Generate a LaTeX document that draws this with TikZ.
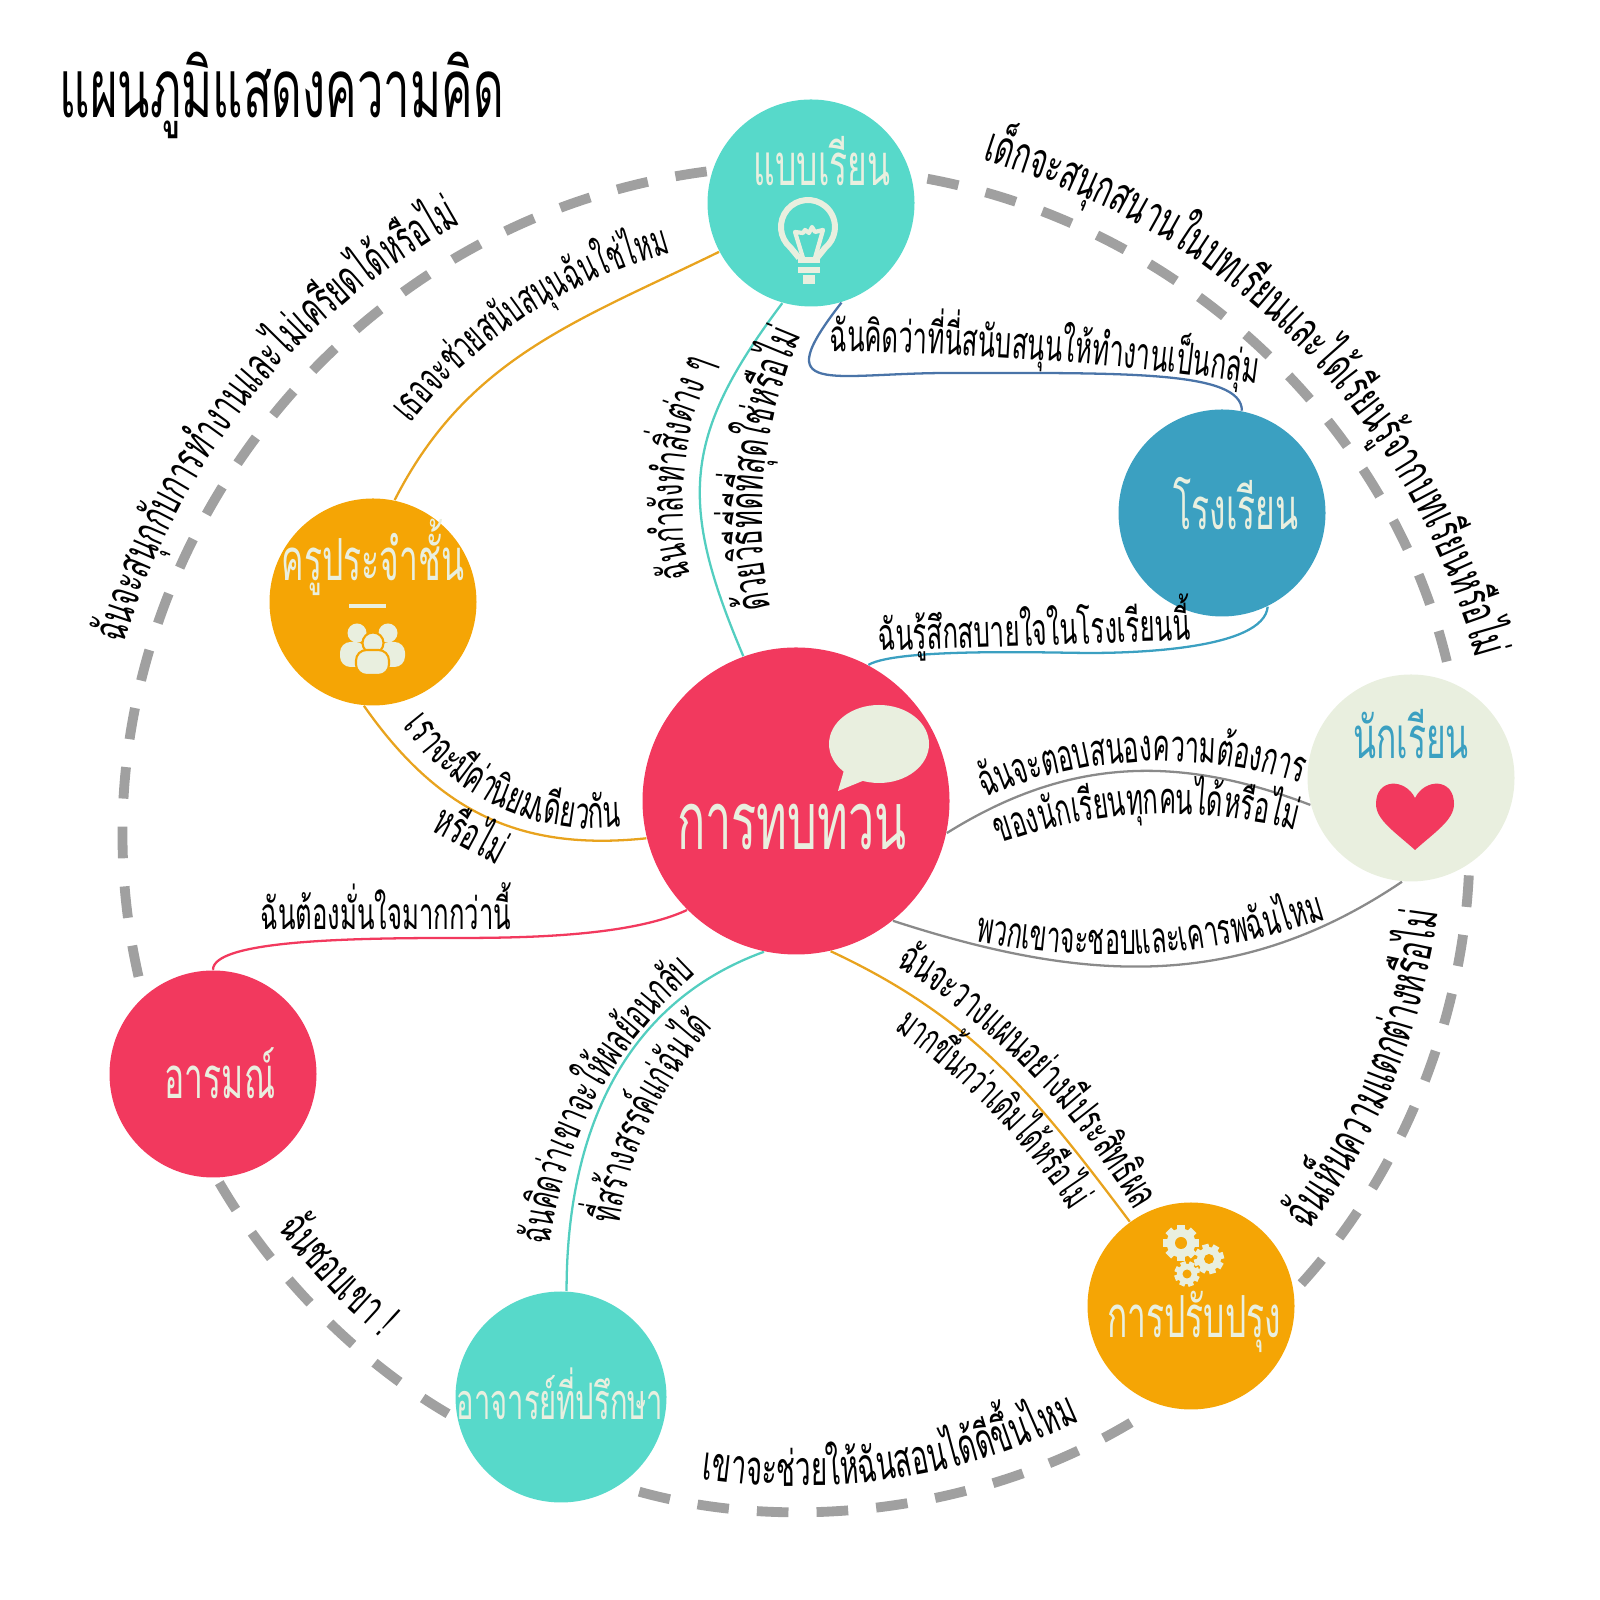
\documentclass[tikz,border=0pt]{standalone}
\usepackage{fontspec}
\usepackage{xcolor}
\usetikzlibrary{arrows.meta,positioning}
\newfontfamily\thaifont[Script=Thai,FakeStretch=0.58]{Loma}
\definecolor{tealfill}{RGB}{87,217,202}
\definecolor{amberfill}{RGB}{245,165,5}
\definecolor{rosefill}{RGB}{242,57,94}
\definecolor{bluefill}{RGB}{59,160,193}
\definecolor{creamfill}{RGB}{233,239,223}
\definecolor{ringgrey}{RGB}{160,160,160}
\definecolor{linkgrey}{RGB}{138,138,138}
\definecolor{linkamber}{RGB}{232,163,30}
\definecolor{linkblue}{RGB}{74,116,168}
\newcommand{\arcsize}{12.6}
\newcommand{\labelfont}{\thaifont\fontsize{\arcsize}{15}\selectfont}
\newlength{\arcwd}
% words laid one by one round a circle: [size], name, centre, radius, start angle, +1 clockwise / -1 anticlockwise, words
\newcommand{\arclabel}[7][12.6]{%
  \def\arcsize{#1}%
  \xdef\arcpos{#5}%
  \foreach \piece [count=\n] in {#7} {%
    \settowidth{\arcwd}{\pgfinterruptpicture\labelfont\piece\endpgfinterruptpicture}%
    \pgfmathsetmacro\arcstep{\arcwd/28.4528/#4*57.2958}%
    \pgfmathsetmacro\arcmid{\arcpos-#6*\arcstep/2}%
    \pgfmathsetmacro\arctilt{\arcmid-#6*90}%
    \pgfmathsetmacro\arcnext{\arcpos-#6*\arcstep}%
    \node[arcword, rotate=\arctilt] (#2\n) at ([shift={(\arcmid:#4)}]#3) {\piece};%
    \xdef\arcpos{\arcnext}%
  }%
}
\newcommand{\gearicon}[4]{%
  \foreach \tooth in {0,45,...,315} {
    \fill[creamfill, rotate around={\tooth+#4:(#1)}] ([xshift=-#2*0.22cm]#1) rectangle ([xshift=#2*0.22cm, yshift=#2*1cm]#1);
  }
  \fill[creamfill] (#1) circle[radius=#2*0.8];
  \fill[amberfill] (#1) circle[radius=#3];
}

\begin{document}
\begin{tikzpicture}[
  topic/.style={circle, minimum size=2.07cm, inner sep=0pt},
  ringlink/.style={ringgrey, line width=2.8pt, dash pattern=on 9pt off 8pt},
  link/.style={line width=0.65pt},
  arcword/.style={anchor=base, inner sep=0pt, font=\labelfont},
  flatword/.style={inner sep=0pt, font=\thaifont\fontsize{12.6}{15}\selectfont},
  midword/.style={inner sep=0pt, text=creamfill, font=\thaifont\fontsize{16.5}{20}\selectfont},
  icon/.style={creamfill}]

  \useasboundingbox (0,0) rectangle (16,16);

  \node[anchor=base west, inner sep=0pt, font=\thaifont\fontsize{23.2}{28}\selectfont] (title) at (0.59,14.82) {แผนภูมิแสดงความคิด};

  \node[topic, fill=tealfill] (study) at (8.11,13.97) {};
  \node[topic, fill=bluefill] (school) at (12.22,10.87) {};
  \node[topic, fill=amberfill] (teacher) at (3.73,9.98) {};
  \node[topic, fill=creamfill] (student) at (14.11,8.22) {};
  \node[topic, fill=rosefill, minimum size=3.07cm] (review) at (7.96,7.99) {};
  \node[topic, fill=rosefill] (mood) at (2.13,5.26) {};
  \node[topic, fill=tealfill, minimum size=2.11cm] (advisor) at (5.61,2.03) {};
  \node[topic, fill=amberfill] (improve) at (11.91,2.94) {};

  \coordinate (ringc) at (7.97,7.62);
  \coordinate (studybend) at (9.5,12.27);
  \coordinate (schoolbend) at (10.9,9.47);
  \coordinate (moodbend) at (4.5,6.62);

  % dashed ring, one arc between each pair of neighbours
  \draw[ringlink, shorten <=1.5pt, shorten >=4pt] (study.162) to[bend right=48, looseness=1.02] (mood.132);
  \draw[ringlink, shorten <=1.5pt, shorten >=3pt] (mood.-88) to[bend right=14.7, looseness=0.86] (advisor.192);
  \draw[ringlink, shorten <=6pt, shorten >=5pt] (advisor.-57) to[bend right=24, looseness=0.89] (improve.-108);
  \draw[ringlink, shorten <=3pt, shorten >=1.5pt] (improve.8.5) to[bend right=20, looseness=0.875] (student.-56);
  \draw[ringlink, shorten <=6pt, shorten >=2pt] (student.67.5) to[bend right=33.4, looseness=0.93] (study.15);

  % thin links
  \draw[link, linkamber] (study.208) to[out=206, in=63] (teacher.78);
  \draw[link, tealfill!95!black] (study.254) to[out=233, in=113, looseness=1.2] (review.110);
  \draw[link, linkblue] (study.-73) to[out=232, in=180, looseness=2.4] (studybend)
    to[out=0, in=90, out looseness=1.5, in looseness=0.35] (school.79);
  \draw[link, bluefill] (school.-64) to[out=-95, in=0, looseness=0.6] (schoolbend)
    to[out=180, in=30, looseness=0.4] (review.62);
  \draw[link, linkamber] (teacher.-95) to[out=-55, in=186, looseness=1.05] (review.194);
  \draw[link, rosefill] (review.225) to[out=205, in=0, looseness=0.7] (moodbend)
    to[out=180, in=90, out looseness=1.2, in looseness=0.3] (mood.90);
  \draw[link, linkgrey] (review.-12) to[out=32, in=159] (student.195);
  \draw[link, linkgrey] (review.-51) to[out=-18, in=214] (student.-95);
  \draw[link, linkamber] (review.-77) to[out=-25, in=127] (improve.126);
  \draw[link, tealfill!95!black] (review.258) to[out=200, in=90] (advisor.87);

  % words along the ring
  \arclabel[13.5]{ringa}{ringc}{7.0}{164}{1}{ฉันจะ,สนุก,กับ,การ,ทำงาน,และ,ไม่,เครียด,ได้,หรือ,ไม่}
  \arclabel[14.1]{ringb}{ringc}{7.02}{74.7}{1}{เด็กจะ,สนุก,สนาน,ใน,บท,เรียน,และ,ได้,เรียน,รู้,จาก,บท,เรียน,หรือ,ไม่}
  \arclabel[13.5]{ringd}{ringc}{6.5}{216.9}{-1}{ฉัน,ชอบ,เขา !}
  \arclabel[13.7]{ringe}{ringc}{6.48}{261.5}{-1}{เขา,จะ,ช่วย,ให้,ฉัน,สอน,ได้,ดี,ขึ้น,ไหม}
  \arclabel[14.2]{ringf}{ringc}{6.45}{322.4}{-1}{ฉัน,เห็น,ความ,แตก,ต่าง,หรือ,ไม่}

  % words along the links
  \arclabel[12.2]{lka}{7.86,8.86}{4.745}{142.3}{1}{เธอ,จะ,ช่วย,สนับ,สนุน,ฉัน,ใช่,ไหม}
  \arclabel{lkb}{10.11,10.96}{3.28}{192.85}{1}{ฉัน,กำลัง,ทำ,สิ่ง,ต่าง ๆ}
  \arclabel[13.3]{lkc}{12.10,10.80}{4.48}{191.4}{1}{ด้วย,วิธี,ที่,ดี,ที่,สุด,ใช่,หรือ,ไม่}
  \arclabel{lkd}{7.95,-20.6}{33.09}{89.4}{1}{ฉัน,คิด,ว่า,ที่,นี่,สนับ,สนุน,ให้,ทำ,งาน,เป็น,กลุ่ม}
  \arclabel[12.6]{lke}{5.96,10.06}{2.34}{214.5}{-1}{เรา,จะ,มี,ค่า,นิยม,เดียว,กัน}
  \arclabel{lkf}{11.63,3.81}{4.575}{113}{1}{ฉัน,จะ,ตอบ,สนอง,ความ,ต้อง,การ}
  \arclabel[12.4]{lkg}{11.69,2.96}{4.9}{110.3}{1}{ของ,นัก,เรียน,ทุก,คน,ได้,หรือ,ไม่}
  \arclabel[12.3]{lkh}{11.10,13.22}{6.766}{258.5}{-1}{พวก,เขา,จะ,ชอบ,และ,เคารพ,ฉัน,ไหม}
  \arclabel[12.4]{lki}{5.167,0.256}{7.17}{58.1}{1}{ฉัน,จะ,วาง,แผน,อย่าง,มี,ประ,สิทธิ,ผล}
  \arclabel[11.7]{lkj}{5.17,0.26}{6.62}{55.3}{1}{มาก,ขึ้น,กว่า,เดิม,ได้,หรือ,ไม่}
  \arclabel[12.3]{lkk}{9.84,2.96}{4.38}{172.3}{1}{ฉัน,คิด,ว่า,เขา,จะ,ให้,ผล,ย้อน,กลับ}
  \arclabel[12.1]{lkl}{9.87,3.22}{3.71}{171.7}{1}{ที่,สร้าง,สรรค์,แก่,ฉัน,ได้}

  \node[flatword, anchor=base west, rotate=2] (calm) at (8.78,9.49) {ฉันรู้สึกสบายใจในโรงเรียนนี้};
  \node[flatword, anchor=base, rotate=-28] (valueend) at (4.64,7.52) {หรือไม่};
  \node[flatword, anchor=base west] (sure) at (2.60,6.70) {ฉันต้องมั่นใจมากกว่านี้};

  % words inside the circles
  \node[midword] (studyname) at (8.22,14.39) {แบบเรียน};
  \node[midword] (schoolname) at (12.36,10.96) {โรงเรียน};
  \node[midword] (teachername) at (3.73,10.43) {ครูประจำชั้น};
  \node[midword, text=bluefill] (studentname) at (14.11,8.66) {นักเรียน};
  \node[midword, font=\thaifont\fontsize{23}{27}\selectfont] (reviewname) at (7.92,7.73) {การทบทวน};
  \node[midword] (moodname) at (2.20,5.27) {อารมณ์};
  \node[midword, font=\thaifont\fontsize{14.3}{18}\selectfont] (advisorname) at (5.60,2.06) {อาจารย์ที่ปรึกษา};
  \node[midword] (improvename) at (11.94,2.78) {การปรับปรุง};

  % icons
  \draw[icon, line width=1.7pt, line join=round] (7.99,13.42) -- (7.906,13.523)
    arc[start angle=230, end angle=-50, radius=0.27] -- (8.17,13.42);
  \draw[icon, line width=1.2pt, line join=round] (8.03,13.42) -- (7.95,13.68) -- (8.03,13.67) -- (8.05,13.70)
    -- (8.09,13.67) -- (8.12,13.73) -- (8.15,13.68) -- (8.23,13.70) -- (8.15,13.42);
  \fill[icon] (7.98,13.37) rectangle (8.20,13.43);
  \fill[icon] (7.98,13.27) rectangle (8.20,13.33);
  \fill[icon] (8.03,13.16) rectangle (8.15,13.25);

  \draw[icon, line width=0.9pt] (3.49,9.94) -- (3.86,9.94);
  \fill[icon] (3.57,9.67) circle[radius=0.095];
  \fill[icon] (3.88,9.67) circle[radius=0.095];
  \fill[icon, rounded corners=3pt] (3.40,9.33) rectangle (3.66,9.58);
  \fill[icon, rounded corners=3pt] (3.79,9.33) rectangle (4.05,9.58);
  \filldraw[icon, draw=amberfill, line width=0.6pt] (3.73,9.57) circle[radius=0.105];
  \filldraw[icon, draw=amberfill, line width=0.6pt, rounded corners=3pt] (3.56,9.25) rectangle (3.89,9.50);

  \coordinate (gearone) at (11.81,3.57);
  \coordinate (geartwo) at (12.09,3.41);
  \coordinate (gearthree) at (11.87,3.26);
  \gearicon{gearone}{0.18}{0.06}{0}
  \gearicon{geartwo}{0.15}{0.05}{15}
  \gearicon{gearthree}{0.127}{0.045}{20}

  \fill[icon] (8.79,8.56) ellipse[x radius=0.50, y radius=0.39];
  \fill[icon] (8.38,8.09) -- (8.47,8.40) -- (8.65,8.20) -- cycle;

  \fill[rosefill] (14.15,7.50) .. controls (13.95,7.68) and (13.76,7.80) .. (13.76,7.96)
    .. controls (13.76,8.22) and (14.05,8.22) .. (14.15,8.02)
    .. controls (14.25,8.22) and (14.54,8.22) .. (14.54,7.96)
    .. controls (14.54,7.80) and (14.35,7.68) .. (14.15,7.50) -- cycle;
\end{tikzpicture}
\end{document}
